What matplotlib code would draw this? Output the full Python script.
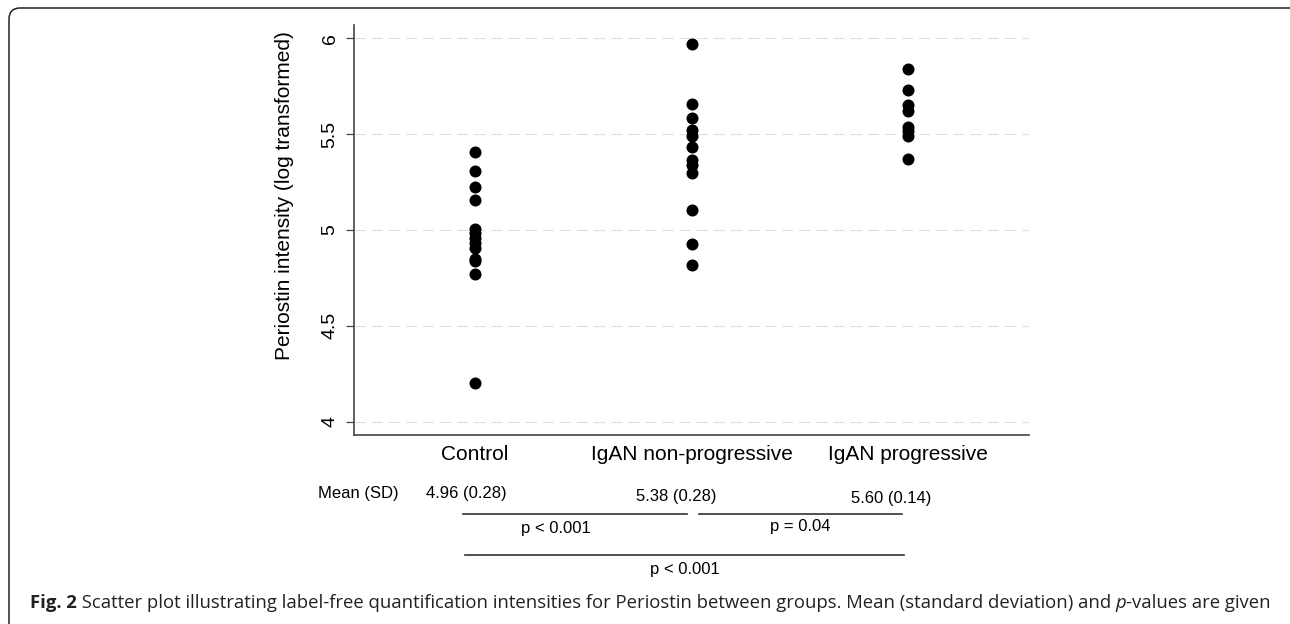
import matplotlib
matplotlib.use("Agg")
import matplotlib.pyplot as plt
from matplotlib.patches import FancyBboxPatch
from matplotlib.transforms import IdentityTransform, blended_transform_factory

plt.rcParams['font.family'] = ['Liberation Sans', 'DejaVu Sans']

# datos
grupos = ['Control', 'IgAN non-progressive', 'IgAN progressive']
control = [5.405, 5.31, 5.225, 5.155, 5.005, 4.985, 4.96, 4.93, 4.905, 4.85, 4.84, 4.77, 4.20]
no_progresivo = [5.97, 5.66, 5.585, 5.52, 5.49, 5.435, 5.365, 5.34, 5.30, 5.105, 4.925, 4.815]
progresivo = [5.84, 5.73, 5.65, 5.62, 5.54, 5.515, 5.49, 5.37]
medias = [4.96, 5.38, 5.60]
desv = [0.28, 0.28, 0.14]
comparaciones = [(1, 2, 'p < 0.001'), (2, 3, 'p = 0.04'), (1, 3, 'p < 0.001')]
yticks = [4, 4.5, 5, 5.5, 6]

fig = plt.figure(figsize=(12.9, 6.24), dpi=100)
ax = fig.add_axes([0.2744, 0.3029, 0.5233, 0.6570])

for i, valores in enumerate([control, no_progresivo, progresivo]):
    ax.scatter([i + 1] * len(valores), valores, s=75, color='black', linewidths=0, zorder=3)

ax.set_xlim(0.4415, 3.557)
ax.set_ylim(3.93, 6.07)
ax.set_xticks([1, 2, 3])
ax.set_xticklabels(grupos, fontsize=15)
ax.set_yticks(yticks)
ax.set_yticklabels([f'{t:g}' for t in yticks], fontsize=14, rotation=90, va='center')
ax.tick_params(axis='x', length=0, pad=7)
ax.tick_params(axis='y', length=6, width=0.9, color='#444444', pad=5)
ax.yaxis.grid(True, linestyle=(0, (10, 5.4)), linewidth=0.8, color='#dddddd')
ax.set_axisbelow(True)
for lado in ['top', 'right']:
    ax.spines[lado].set_visible(False)
for lado in ['left', 'bottom']:
    ax.spines[lado].set_color('#444444')
    ax.spines[lado].set_linewidth(1.2)

fig.text(285 / 1290, 1 - 196 / 624, 'Periostin intensity (log transformed)', rotation=90,
         ha='center', va='center', fontsize=15)

# tabla de medias y comparaciones debajo del eje
tr = blended_transform_factory(ax.transData, ax.transAxes)
ax.text(0.649, -0.1439, 'Mean (SD)', transform=tr, ha='right', va='center', fontsize=12)
desp_media = [-0.042, -0.07, -0.078]
y_media = [-0.1439, -0.151, -0.156]
for i, (m, s) in enumerate(zip(medias, desv)):
    ax.text(i + 1 + desp_media[i], y_media[i], f'{m:.2f} ({s:.2f})', transform=tr,
            ha='center', va='center', fontsize=12)

lineas = [(-0.055, -0.022, -0.1927), (0.034, -0.029, -0.1927), (-0.046, -0.02, -0.2927)]
desp_p = [-0.09, 0.0, 0.0]
y_p = [-0.227, -0.224, -0.329]
for k, (a, b, txt) in enumerate(comparaciones):
    d0, d1, yl = lineas[k]
    ax.plot([a + d0, b + d1], [yl, yl], transform=tr, clip_on=False, color='#333333', lw=1.2)
    xm = (a + d0 + b + d1) / 2 + desp_p[k]
    ax.text(xm, y_p[k], txt, transform=tr, ha='center', va='center', fontsize=12)

# marco redondeado de la figura
marco = FancyBboxPatch((9, -40), 1300, 656, boxstyle='round,pad=0,rounding_size=11',
                       transform=IdentityTransform(), fill=False, edgecolor='#222222',
                       linewidth=1.1)
fig.add_artist(marco)

# pie de figura
piezas = [(' Scatter plot illustrating label-free quantification intensities for Periostin between groups. Mean (standard deviation) and ', 'normal', 'normal'),
          ('p', 'normal', 'italic'),
          ('-values are given', 'normal', 'normal')]
prev = fig.text(30 / 1290, 1 - 603 / 624, 'Fig. 2', fontsize=13.3, family='Open Sans',
                fontweight='bold', va='center', color='#222222')
for txt, peso, estilo in piezas:
    prev = ax.annotate(txt, xy=(1, 0), xycoords=prev, va='bottom', ha='left', fontsize=13.3,
                       family='Open Sans', fontweight=peso, fontstyle=estilo, color='#222222',
                       annotation_clip=False)

fig.savefig('out.png', dpi=100)
